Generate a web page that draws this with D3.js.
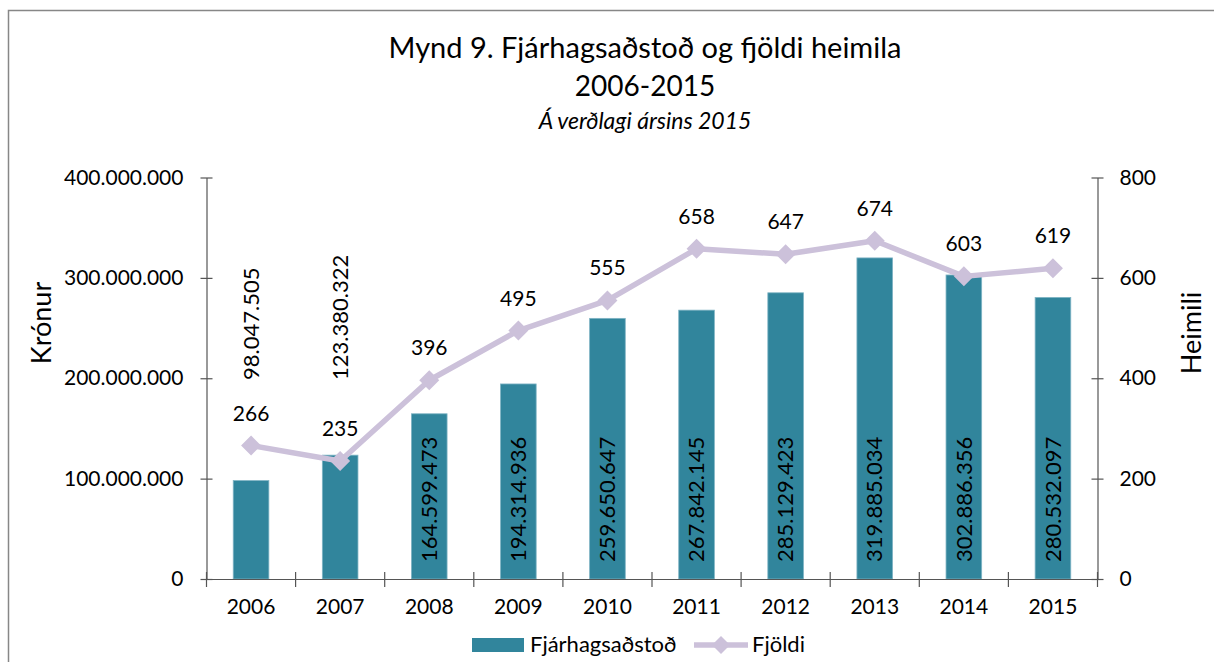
<!DOCTYPE html>
<html>
<head>
<meta charset="utf-8">
<script src="https://cdn.jsdelivr.net/npm/d3@7"></script>
<style>
  body { margin: 0; background: #fff; }
  text { font-family: Lato, "Open Sans", sans-serif; fill: #000; }
</style>
</head>
<body>
<script>
// data
var years = ["2006", "2007", "2008", "2009", "2010", "2011", "2012", "2013", "2014", "2015"];
var kronur = [98047505, 123380322, 164599473, 194314936, 259650647, 267842145, 285129423, 319885034, 302886356, 280532097];
var heimili = [266, 235, 396, 495, 555, 658, 647, 674, 603, 619];
var leftTicks = [0, 100000000, 200000000, 300000000, 400000000];
var rightTicks = [0, 200, 400, 600, 800];

var width = 1214, height = 662;
var plotL = 206.5, plotR = 1097.5, plotT = 177.5, plotB = 579;

var svg = d3.select("body").append("svg")
  .attr("width", width)
  .attr("height", height);

// outer frame
svg.append("path")
  .attr("d", "M8.5," + height + "V10.5H" + width)
  .attr("fill", "none")
  .attr("stroke", "#878787")
  .attr("stroke-width", 1.5);

// titles
svg.append("text").attr("x", 645).attr("y", 58).attr("text-anchor", "middle")
  .style("font-size", "29px").text("Mynd 9. Fjárhagsaðstoð og fjöldi heimila");
svg.append("text").attr("x", 645).attr("y", 96).attr("text-anchor", "middle")
  .style("font-size", "28px").text("2006-2015");
svg.append("text").attr("x", 645).attr("y", 129).attr("text-anchor", "middle")
  .style("font-size", "23px").style("font-style", "italic").text("Á verðlagi ársins 2015");

var x = d3.scaleBand().domain(years).range([plotL, plotR]);
var yL = d3.scaleLinear().domain([0, 400000000]).range([plotB, plotT]);
var yR = d3.scaleLinear().domain([0, 800]).range([plotB, plotT]);

function fmt(v) { return d3.format(",")(v).replace(/,/g, "."); }

// bars
var barW = x.bandwidth() * 0.4;
svg.append("g").selectAll("rect")
  .data(kronur)
  .enter().append("rect")
  .attr("x", function(d, i) { return x(years[i]) + (x.bandwidth() - barW) / 2; })
  .attr("y", function(d) { return yL(d); })
  .attr("width", barW)
  .attr("height", function(d) { return plotB - yL(d); })
  .attr("fill", "#31859c")
  .attr("stroke", "#7fb4c4")
  .attr("stroke-width", 0.8);

// left axis
var gL = svg.append("g")
  .attr("transform", "translate(" + plotL + ",0)")
  .call(d3.axisLeft(yL).tickValues(leftTicks).tickSizeInner(6).tickSizeOuter(0).tickPadding(17).tickFormat(fmt));
gL.selectAll(".tick line").attr("x1", 6);

// right axis
var gR = svg.append("g")
  .attr("transform", "translate(" + plotR + ",0)")
  .call(d3.axisRight(yR).tickValues(rightTicks).tickSizeInner(6).tickSizeOuter(0).tickPadding(16));
gR.selectAll(".tick line").attr("x1", -6);

// x axis
var gX = svg.append("g")
  .attr("transform", "translate(0," + plotB + ")")
  .call(d3.axisBottom(x).tickSize(0).tickPadding(20));
var edges = years.map(function(y) { return x(y); }).concat([plotR]);
gX.selectAll(".edge").data(edges).enter().append("line")
  .attr("x1", function(d) { return d; }).attr("x2", function(d) { return d; })
  .attr("y1", -7).attr("y2", 8);

[gL, gR, gX].forEach(function(g) {
  g.selectAll("path, line").attr("stroke", "#555").attr("stroke-width", 1.2);
  g.selectAll(".tick text").style("font-size", "21px").style("font-family", "Lato, sans-serif").attr("fill", "#000");
});

// axis titles
svg.append("text").attr("transform", "translate(42,323) rotate(-90)")
  .attr("text-anchor", "middle").attr("dy", "0.35em").style("font-size", "27px").text("Krónur");
svg.append("text").attr("transform", "translate(1192,333) rotate(-90)")
  .attr("text-anchor", "middle").attr("dy", "0.35em").style("font-size", "27px").text("Heimili");

// bar labels
svg.append("g").selectAll("text")
  .data(kronur)
  .enter().append("text")
  .attr("transform", function(d, i) {
    var cx = x(years[i]) + x.bandwidth() / 2;
    var y0 = (plotB - yL(d) < 135) ? 380 : plotB - 17;
    return "translate(" + cx + "," + y0 + ") rotate(-90)";
  })
  .attr("dy", "0.35em")
  .style("font-size", "22px")
  .text(function(d) { return fmt(d); });

// line
var line = d3.line()
  .x(function(d, i) { return x(years[i]) + x.bandwidth() / 2; })
  .y(function(d) { return yR(d); });
svg.append("path")
  .datum(heimili)
  .attr("d", line)
  .attr("fill", "none")
  .attr("stroke", "#ccc1da")
  .attr("stroke-width", 5.5)
  .attr("stroke-linejoin", "round");

function diamond(r) { return "M0," + (-r) + "L" + r + ",0L0," + r + "L" + (-r) + ",0Z"; }

svg.append("g").selectAll("path")
  .data(heimili)
  .enter().append("path")
  .attr("d", diamond(10))
  .attr("transform", function(d, i) { return "translate(" + (x(years[i]) + x.bandwidth() / 2) + "," + yR(d) + ")"; })
  .attr("fill", "#ccc1da");

svg.append("g").selectAll("text")
  .data(heimili)
  .enter().append("text")
  .attr("x", function(d, i) { return x(years[i]) + x.bandwidth() / 2; })
  .attr("y", function(d) { return yR(d) - 25; })
  .attr("text-anchor", "middle")
  .style("font-size", "21px")
  .text(function(d) { return d; });

// legend
var lg = svg.append("g");
lg.append("rect").attr("x", 472).attr("y", 638).attr("width", 52).attr("height", 14).attr("fill", "#31859c");
lg.append("text").attr("x", 530).attr("y", 652).style("font-size", "22px").text("Fjárhagsaðstoð");
lg.append("line").attr("x1", 694).attr("x2", 748).attr("y1", 645).attr("y2", 645)
  .attr("stroke", "#ccc1da").attr("stroke-width", 5.5);
lg.append("path").attr("d", diamond(9)).attr("transform", "translate(721,645)").attr("fill", "#ccc1da");
lg.append("text").attr("x", 752).attr("y", 652).style("font-size", "22px").text("Fjöldi");
</script>
</body>
</html>
